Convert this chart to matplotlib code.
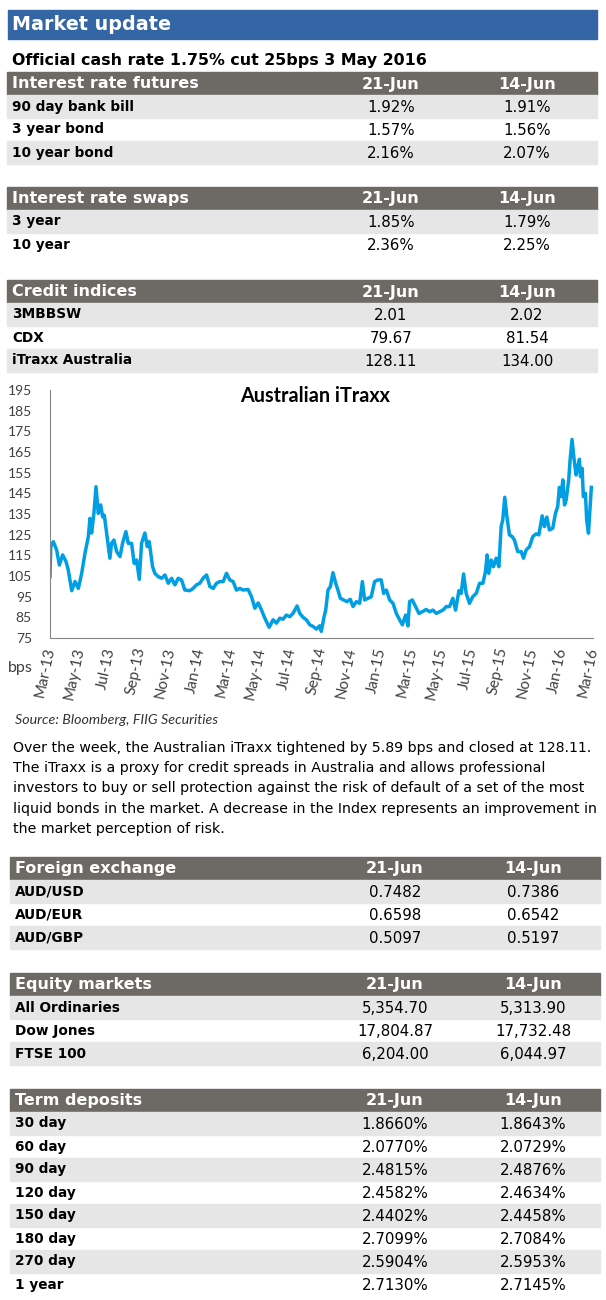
import matplotlib
matplotlib.use('Agg')
import matplotlib.pyplot as plt
from matplotlib.patches import Rectangle

# colours
BLUE = '#3465a4'
HEAD = '#6d6a66'
STRIPE = '#e6e6e6'
LINE = '#009fe3'

cols = ['21-Jun', '14-Jun']

futures_rows = ['90 day bank bill', '3 year bond', '10 year bond']
futures_21 = ['1.92%', '1.57%', '2.16%']
futures_14 = ['1.91%', '1.56%', '2.07%']

swaps_rows = ['3 year', '10 year']
swaps_21 = ['1.85%', '2.36%']
swaps_14 = ['1.79%', '2.25%']

credit_rows = ['3MBBSW', 'CDX', 'iTraxx Australia']
credit_21 = ['2.01', '79.67', '128.11']
credit_14 = ['2.02', '81.54', '134.00']

fx_rows = ['AUD/USD', 'AUD/EUR', 'AUD/GBP']
fx_21 = ['0.7482', '0.6598', '0.5097']
fx_14 = ['0.7386', '0.6542', '0.5197']

equity_rows = ['All Ordinaries', 'Dow Jones', 'FTSE 100']
equity_21 = ['5,354.70', '17,804.87', '6,204.00']
equity_14 = ['5,313.90', '17,732.48', '6,044.97']

term_rows = ['30 day', '60 day', '90 day', '120 day', '150 day', '180 day', '270 day', '1 year']
term_21 = ['1.8660%', '2.0770%', '2.4815%', '2.4582%', '2.4402%', '2.7099%', '2.5904%', '2.7130%']
term_14 = ['1.8643%', '2.0729%', '2.4876%', '2.4634%', '2.4458%', '2.7084%', '2.5953%', '2.7145%']

# Australian iTraxx, months since Mar-13 and level in bps
itraxx_month = [
    0.00, 0.05, 0.22, 0.44, 0.62, 0.84, 1.06, 1.21, 1.44, 1.66, 1.88, 2.10, 2.32, 2.54,
    2.65, 2.76, 2.91, 3.05, 3.20, 3.36, 3.49, 3.60, 3.75, 3.97, 4.08, 4.24, 4.42, 4.64,
    4.81, 5.03, 5.19, 5.41, 5.58, 5.74, 5.92, 6.07, 6.29, 6.45, 6.58, 6.80, 6.95, 7.17,
    7.40, 7.62, 7.84, 8.06, 8.28, 8.50, 8.72, 8.94, 9.27, 9.49, 9.71, 9.93, 10.15, 10.38,
    10.60, 10.82, 11.04, 11.26, 11.48, 11.70, 11.92, 12.14, 12.36, 12.58, 12.80, 13.13,
    13.36, 13.58, 13.80, 14.02, 14.24, 14.53, 14.79, 15.01, 15.23, 15.45, 15.67, 15.89,
    16.11, 16.38, 16.56, 16.78, 17.00, 17.22, 17.44, 17.66, 17.88, 17.99, 18.15, 18.28,
    18.43, 18.59, 18.76, 18.94, 19.09, 19.25, 19.47, 19.69, 19.91, 20.09, 20.31, 20.53,
    20.71, 20.86, 21.08, 21.30, 21.52, 21.74, 21.96, 22.12, 22.30, 22.52, 22.74, 22.96,
    23.18, 23.36, 23.51, 23.58, 23.73, 23.84, 24.02, 24.24, 24.46, 24.68, 24.94, 25.17,
    25.39, 25.61, 25.83, 26.05, 26.27, 26.49, 26.71, 26.89, 27.11, 27.26, 27.42, 27.59,
    27.81, 28.03, 28.26, 28.48, 28.70, 28.87, 28.98, 29.09, 29.25, 29.40, 29.58, 29.76,
    29.91, 30.02, 30.15, 30.29, 30.46, 30.64, 30.79, 31.01, 31.24, 31.39, 31.57, 31.79,
    32.01, 32.23, 32.41, 32.63, 32.78, 32.94, 33.11, 33.33, 33.51, 33.66, 33.77, 33.88,
    34.00, 34.11, 34.22, 34.39, 34.48, 34.61, 34.75, 34.88, 34.99, 35.10, 35.17, 35.28,
    35.36, 35.50, 35.58, 35.70, 35.81, 35.89,
]
itraxx_bps = [
    104.7, 119.2, 121.6, 117.6, 110.3, 115.2, 112.0, 107.9, 97.9, 102.3, 99.0, 106.3, 116.0, 124.0,
    132.9, 125.8, 135.3, 148.2, 135.3, 139.4, 133.6, 134.4, 125.8, 113.6, 120.8, 122.4, 116.8, 114.4,
    120.8, 126.5, 120.8, 120.8, 111.1, 112.7, 103.4, 120.8, 125.8, 119.2, 121.6, 109.5, 106.3, 104.7,
    103.9, 105.5, 101.5, 103.9, 100.7, 103.9, 103.1, 98.2, 97.9, 99.0, 100.7, 101.5, 103.9, 105.5,
    99.9, 99.0, 101.5, 102.3, 102.3, 106.3, 103.1, 102.3, 98.2, 99.0, 98.2, 98.5,
    95.0, 89.4, 92.0, 88.6, 84.6, 80.2, 83.8, 82.2, 84.6, 84.1, 86.1, 85.3,
    86.9, 90.5, 86.9, 85.0, 83.8, 81.4, 80.6, 79.3, 80.9, 78.2, 84.6, 88.6,
    98.2, 99.9, 106.6, 101.5, 98.2, 94.2, 93.4, 92.6, 93.7, 90.2, 92.6, 91.8,
    102.3, 93.4, 94.2, 95.0, 102.3, 103.1, 103.1, 96.6, 98.2, 93.4, 91.8, 86.9,
    83.8, 81.4, 84.5, 86.1, 80.8, 92.6, 93.4, 90.2, 86.9, 87.7, 88.8, 87.7,
    88.5, 86.9, 87.7, 88.5, 90.2, 90.2, 94.2, 88.5, 97.9, 96.6, 106.0, 96.6,
    91.8, 95.0, 96.6, 101.5, 101.5, 107.1, 115.2, 106.3, 112.7, 109.5, 113.6, 109.5,
    128.9, 132.2, 143.1, 133.8, 124.9, 124.1, 122.4, 116.8, 116.8, 113.6, 117.6, 119.2,
    124.1, 125.4, 124.9, 134.1, 128.9, 133.5, 127.3, 128.1, 135.3, 138.6, 147.9, 143.4,
    151.5, 139.4, 141.8, 151.5, 161.1, 171.1, 161.1, 153.9, 157.9, 161.5, 153.1, 157.1,
    143.4, 145.0, 132.1, 125.7, 138.6, 147.9,
]
month_ticks = list(range(0, 37, 2))
month_labels = ['Mar-13', 'May-13', 'Jul-13', 'Sep-13', 'Nov-13', 'Jan-14', 'Mar-14',
                'May-14', 'Jul-14', 'Sep-14', 'Nov-14', 'Jan-15', 'Mar-15', 'May-15',
                'Jul-15', 'Sep-15', 'Nov-15', 'Jan-16', 'Mar-16']
bps_ticks = list(range(75, 196, 10))

paragraph = [
    'Over the week, the Australian iTraxx tightened by 5.89 bps and closed at 128.11.',
    'The iTraxx is a proxy for credit spreads in Australia and allows professional',
    'investors to buy or sell protection against the risk of default of a set of the most',
    'liquid bonds in the market. A decrease in the Index represents an improvement in',
    'the market perception of risk.',
]

W, H = 606, 1300
fig = plt.figure(figsize=(W / 100, H / 100), dpi=100)
plt.rcParams['font.family'] = ['DejaVu Sans']

# page canvas in pixel units, y down
bg = fig.add_axes([0, 0, 1, 1])
bg.set_xlim(0, W)
bg.set_ylim(H, 0)
bg.axis('off')

bg.add_patch(Rectangle((8, 10), 589, 29, color=BLUE))
bg.text(12, 25, 'Market update', color='white', fontsize=13.8, fontweight='bold', va='center')
bg.text(12, 60, 'Official cash rate 1.75% cut 25bps 3 May 2016', fontsize=11.4,
        fontweight='bold', va='center')


def table(top, title, rows, v21, v14, x0=7, x1=597, cx=(391, 527)):
    h = 23
    bg.add_patch(Rectangle((x0, top), x1 - x0, h, color=HEAD))
    bg.text(x0 + 5, top + h / 2 + 0.5, title, color='white', fontsize=11.5,
            fontweight='bold', va='center')
    for c, x in zip(cols, cx):
        bg.text(x, top + h / 2 + 0.5, c, color='white', fontsize=11.5,
                fontweight='bold', va='center', ha='center')
    for i, (r, a, b) in enumerate(zip(rows, v21, v14)):
        y = top + h * (i + 1)
        if i % 2 == 0:
            bg.add_patch(Rectangle((x0, y), x1 - x0, h, color=STRIPE))
        bg.text(x0 + 5, y + h / 2, r, fontsize=9.8, fontweight='bold', va='center')
        bg.text(cx[0], y + h / 2 + 1, a, fontsize=10.8, va='center', ha='center')
        bg.text(cx[1], y + h / 2 + 1, b, fontsize=10.8, va='center', ha='center')


table(72, 'Interest rate futures', futures_rows, futures_21, futures_14)
table(187, 'Interest rate swaps', swaps_rows, swaps_21, swaps_14)
table(280, 'Credit indices', credit_rows, credit_21, credit_14)
table(857, 'Foreign exchange', fx_rows, fx_21, fx_14, x0=10, x1=600, cx=(395, 533))
table(973, 'Equity markets', equity_rows, equity_21, equity_14, x0=10, x1=600, cx=(395, 533))
table(1089, 'Term deposits', term_rows, term_21, term_14, x0=10, x1=600, cx=(395, 533))

# chart
ax = fig.add_axes([50 / W, 1 - 638 / H, 543 / W, 248 / H])
ax.plot(itraxx_month, itraxx_bps, color=LINE, lw=2.5)
ax.set_xlim(0, 36)
ax.set_ylim(75, 195)
ax.set_yticks(bps_ticks)
ax.set_xticks(month_ticks)
ax.set_xticklabels(month_labels, rotation=78, ha='right', va='center',
                   rotation_mode='anchor')
for s in ['top', 'right']:
    ax.spines[s].set_visible(False)
for s in ['left', 'bottom']:
    ax.spines[s].set_color('#868686')
ax.tick_params(length=0, labelcolor='#404040')
ax.tick_params(axis='y', pad=13)
ax.tick_params(axis='x', pad=7)
for lab in ax.get_xticklabels():
    lab.set_fontfamily('Lato')
    lab.set_fontsize(11)
for lab in ax.get_yticklabels():
    lab.set_fontfamily('Lato')
    lab.set_fontsize(10)
ax.set_facecolor('none')

bg.text(315, 396, 'Australian iTraxx', family='Lato', fontweight='bold', fontsize=14.2,
        ha='center', va='center')
bg.text(8, 668, 'bps', family='Lato', fontsize=11.5, color='#404040', va='center')
bg.text(15, 720, 'Source: Bloomberg, FIIG Securities', family='Lato', style='italic',
        fontsize=10.3, color='#333333', va='center')

for i, line in enumerate(paragraph):
    bg.text(13, 748 + 20.2 * i, line, fontsize=10.2, va='center')

fig.savefig('out.png', dpi=100)
